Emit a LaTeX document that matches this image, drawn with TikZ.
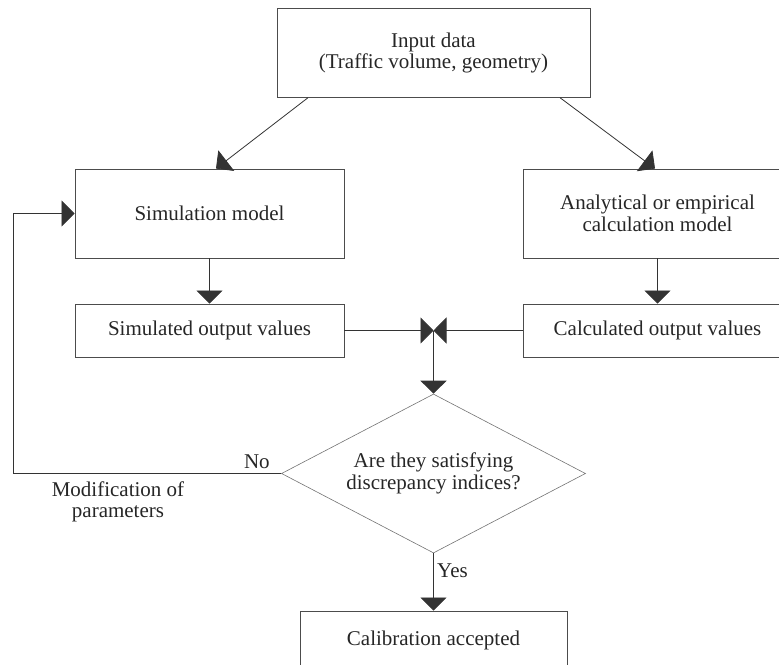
\documentclass[tikz,border=0pt]{standalone}
\usepackage{fontspec}
\setmainfont{Liberation Serif}
\usetikzlibrary{arrows.meta,shapes.geometric,positioning,calc}

\begin{document}
\begin{tikzpicture}[x=1pt,y=1pt,node distance=117pt]
\tikzstyle{every node}=[font=\fontsize{21}{21.5}\selectfont,text=black!85]
\tikzstyle{box}=[draw=black!70,line width=0.9pt,align=center,minimum width=269pt,minimum height=89pt,inner sep=0pt]
\tikzstyle{outbox}=[box,minimum height=53pt]
\tikzstyle{dec}=[draw=black!55,line width=0.6pt,diamond,aspect=1.91,align=center,minimum width=304pt,minimum height=159pt,inner sep=0pt]
\tikzstyle{arr}=[draw=black!80,line width=0.8pt,-{Triangle[width=26pt,length=13pt]}]
\useasboundingbox (0,0) rectangle (779,-664);

\node [box,minimum width=313pt] (input) at (433.5,-52.75) {Input data\\(Traffic volume, geometry)};
\node [box] (sim) at (209.5,-213.5) {Simulation model};
\node [box,node distance=448pt,right of=sim] (ana) {Analytical or empirical\\calculation model};
\node [outbox,below of=sim] (simout) {Simulated output values};
\node [outbox,below of=ana] (calcout) {Calculated output values};
\coordinate (join) at ($(simout)!0.5!(calcout)$);
\node [dec,node distance=143pt,below of=join] (check) {Are they satisfying\\discrepancy indices?};
\node [box,minimum width=267pt,minimum height=58pt,node distance=166.5pt,below of=check] (calib) {Calibration accepted};
\coordinate (loop) at (13,-473.5);
\node [above left=1pt and 8pt of check.west] (no) {No};
\node [align=center] (modif) at (118,-502) {Modification of\\parameters};

\draw[arr] ([xshift=-125.5pt]input.south) -- ([xshift=6.5pt]sim.north);
\draw[arr] ([xshift=126.5pt]input.south) -- ([xshift=-2.5pt]ana.north);
\draw[arr] (sim) -- (simout);
\draw[arr] (ana) -- (calcout);
\draw[arr] (simout) -- (join);
\draw[arr] (calcout) -- (join);
\draw[arr] (join) -- (check);
\draw[arr] (check.west) -- (loop) |- (sim.west);
\draw[arr] (check) -- node[right,pos=0.3] (yes) {Yes} (calib);
\end{tikzpicture}
\end{document}
